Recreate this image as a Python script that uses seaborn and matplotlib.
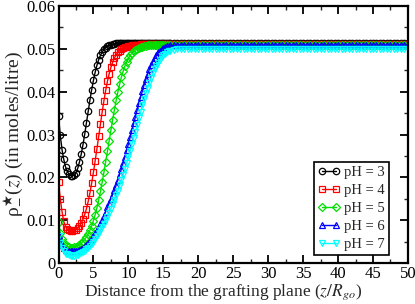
import numpy as np
import pandas as pd
import matplotlib
matplotlib.use("Agg")
import matplotlib.pyplot as plt
import seaborn as sns

# ---------------- data ----------------
z_near = [0, 0.25, 0.5, 0.75, 1, 1.25, 1.5, 1.75, 2, 2.25, 2.5, 2.75, 3, 3.25, 3.5, 3.75,
          4, 4.25, 4.5, 4.75, 5, 5.25, 5.5, 5.75, 6, 6.25, 6.5, 6.75, 7, 7.25, 7.5, 7.75,
          8, 8.25, 8.5, 8.75, 9, 9.25, 9.5, 9.75, 10, 10.25, 10.5, 10.75, 11, 11.25, 11.5, 11.75,
          12, 12.25, 12.5, 12.75, 13, 13.25, 13.5, 13.75, 14, 14.25, 14.5, 14.75, 15, 15.25, 15.5, 15.75,
          16]
z_far = [16.5, 17, 17.5, 18, 18.5, 19, 19.5, 20, 20.5, 21, 21.5, 22, 22.5, 23, 23.5, 24, 24.5, 25,
         25.5, 26, 26.5, 27, 27.5, 28, 28.5, 29, 29.5, 30, 30.5, 31, 31.5, 32, 32.5, 33, 33.5, 34,
         34.5, 35, 35.5, 36, 36.5, 37, 37.5, 38, 38.5, 39, 39.5, 40, 40.5, 41, 41.5, 42, 42.5, 43,
         43.5, 44, 44.5, 45, 45.5, 46, 46.5, 47, 47.5, 48, 48.5, 49, 49.5, 50]

ph3_near = [0.0343, 0.0298, 0.0265, 0.0242, 0.0225, 0.0214, 0.0207, 0.0204, 0.0203, 0.0205, 0.0211,
            0.0221, 0.0236, 0.0254, 0.0276, 0.0301, 0.0328, 0.0355, 0.0381, 0.0405, 0.0427, 0.0446,
            0.0462, 0.0475, 0.0485, 0.0493, 0.0499, 0.0503, 0.0506, 0.0508, 0.0510, 0.0511, 0.0512,
            0.0513, 0.0513, 0.0513, 0.0513, 0.0513, 0.0513, 0.0513, 0.0513, 0.0513, 0.0513, 0.0513,
            0.0513, 0.0513, 0.0513, 0.0513, 0.0513, 0.0513, 0.0513, 0.0513, 0.0513, 0.0513, 0.0513,
            0.0513, 0.0513, 0.0513, 0.0513, 0.0513, 0.0513, 0.0513, 0.0513, 0.0513, 0.0513]
ph4_near = [0.0190, 0.0150, 0.0120, 0.0097, 0.0085, 0.0079, 0.0076, 0.0075, 0.0075, 0.0076, 0.0078,
            0.0081, 0.0086, 0.0093, 0.0102, 0.0113, 0.0127, 0.0144, 0.0164, 0.0187, 0.0212, 0.0239,
            0.0267, 0.0296, 0.0325, 0.0353, 0.0379, 0.0403, 0.0424, 0.0442, 0.0457, 0.0469, 0.0479,
            0.0486, 0.0492, 0.0496, 0.0499, 0.0502, 0.0504, 0.0505, 0.0506, 0.0507, 0.0508, 0.0509,
            0.0509, 0.0510, 0.0510, 0.0511, 0.0511, 0.0511, 0.0511, 0.0511, 0.0511, 0.0511, 0.0511,
            0.0511, 0.0511, 0.0511, 0.0511, 0.0511, 0.0511, 0.0511, 0.0511, 0.0511, 0.0511]
ph5_near = [0.0095, 0.0070, 0.0055, 0.0046, 0.0041, 0.0039, 0.0037, 0.0036, 0.0036, 0.0037, 0.0038,
            0.0040, 0.0042, 0.0046, 0.0050, 0.0055, 0.0061, 0.0068, 0.0077, 0.0087, 0.0099, 0.0113,
            0.0129, 0.0147, 0.0167, 0.0189, 0.0212, 0.0236, 0.0261, 0.0286, 0.0311, 0.0335, 0.0358,
            0.0380, 0.0400, 0.0418, 0.0434, 0.0448, 0.0460, 0.0470, 0.0478, 0.0485, 0.0490, 0.0494,
            0.0498, 0.0500, 0.0502, 0.0504, 0.0505, 0.0506, 0.0507, 0.0508, 0.0508, 0.0509, 0.0509,
            0.0510, 0.0510, 0.0510, 0.0510, 0.0510, 0.0510, 0.0510, 0.0510, 0.0510, 0.0510]
ph6_near = [0.0065, 0.0051, 0.0042, 0.0035, 0.0031, 0.0029, 0.0028, 0.0027, 0.0027, 0.0027, 0.0028,
            0.0029, 0.0031, 0.0033, 0.0036, 0.0039, 0.0043, 0.0047, 0.0052, 0.0057, 0.0063, 0.0069,
            0.0076, 0.0084, 0.0092, 0.0101, 0.0110, 0.0120, 0.0130, 0.0140, 0.0150, 0.0160, 0.0170,
            0.0182, 0.0194, 0.0207, 0.0220, 0.0234, 0.0248, 0.0263, 0.0278, 0.0294, 0.0310, 0.0326,
            0.0342, 0.0358, 0.0373, 0.0388, 0.0402, 0.0416, 0.0429, 0.0441, 0.0452, 0.0462, 0.0471,
            0.0479, 0.0486, 0.0492, 0.0496, 0.0500, 0.0503, 0.0505, 0.0506, 0.0507, 0.0508]
ph7_near = [0.0062, 0.0046, 0.0035, 0.0027, 0.0022, 0.0020, 0.0018, 0.0017, 0.0017, 0.0017, 0.0018,
            0.0019, 0.0021, 0.0023, 0.0026, 0.0029, 0.0032, 0.0036, 0.0040, 0.0045, 0.0050, 0.0056,
            0.0062, 0.0069, 0.0076, 0.0084, 0.0092, 0.0100, 0.0108, 0.0117, 0.0127, 0.0137, 0.0147,
            0.0158, 0.0169, 0.0181, 0.0193, 0.0206, 0.0219, 0.0233, 0.0247, 0.0262, 0.0277, 0.0292,
            0.0307, 0.0323, 0.0338, 0.0353, 0.0368, 0.0382, 0.0396, 0.0409, 0.0421, 0.0432, 0.0443,
            0.0452, 0.0461, 0.0468, 0.0475, 0.0480, 0.0485, 0.0489, 0.0492, 0.0494, 0.0496]

# plateau values (z from 16.5 to 50)
ph3_far = [0.0513, 0.0513, 0.0513, 0.0513, 0.0513, 0.0513, 0.0513, 0.0513, 0.0513, 0.0513, 0.0513, 0.0513,
           0.0513, 0.0513, 0.0513, 0.0513, 0.0513, 0.0513, 0.0513, 0.0513, 0.0513, 0.0513, 0.0513, 0.0513,
           0.0513, 0.0513, 0.0513, 0.0513, 0.0513, 0.0513, 0.0513, 0.0513, 0.0513, 0.0513, 0.0513, 0.0513,
           0.0513, 0.0513, 0.0513, 0.0513, 0.0513, 0.0513, 0.0513, 0.0513, 0.0513, 0.0513, 0.0513, 0.0513,
           0.0513, 0.0513, 0.0513, 0.0513, 0.0513, 0.0513, 0.0513, 0.0513, 0.0513, 0.0513, 0.0513, 0.0513,
           0.0513, 0.0513, 0.0513, 0.0513, 0.0513, 0.0513, 0.0513, 0.0513]
ph4_far = [0.0511, 0.0511, 0.0511, 0.0511, 0.0511, 0.0511, 0.0511, 0.0511, 0.0511, 0.0511, 0.0511, 0.0511,
           0.0511, 0.0511, 0.0511, 0.0511, 0.0511, 0.0511, 0.0511, 0.0511, 0.0511, 0.0511, 0.0511, 0.0511,
           0.0511, 0.0511, 0.0511, 0.0511, 0.0511, 0.0511, 0.0511, 0.0511, 0.0511, 0.0511, 0.0511, 0.0511,
           0.0511, 0.0511, 0.0511, 0.0511, 0.0511, 0.0511, 0.0511, 0.0511, 0.0511, 0.0511, 0.0511, 0.0511,
           0.0511, 0.0511, 0.0511, 0.0511, 0.0511, 0.0511, 0.0511, 0.0511, 0.0511, 0.0511, 0.0511, 0.0511,
           0.0511, 0.0511, 0.0511, 0.0511, 0.0511, 0.0511, 0.0511, 0.0511]
ph5_far = [0.0510, 0.0510, 0.0510, 0.0510, 0.0510, 0.0510, 0.0510, 0.0510, 0.0510, 0.0510, 0.0510, 0.0510,
           0.0510, 0.0510, 0.0510, 0.0510, 0.0510, 0.0510, 0.0510, 0.0510, 0.0510, 0.0510, 0.0510, 0.0510,
           0.0510, 0.0510, 0.0510, 0.0510, 0.0510, 0.0510, 0.0510, 0.0510, 0.0510, 0.0510, 0.0510, 0.0510,
           0.0510, 0.0510, 0.0510, 0.0510, 0.0510, 0.0510, 0.0510, 0.0510, 0.0510, 0.0510, 0.0510, 0.0510,
           0.0510, 0.0510, 0.0510, 0.0510, 0.0510, 0.0510, 0.0510, 0.0510, 0.0510, 0.0510, 0.0510, 0.0510,
           0.0510, 0.0510, 0.0510, 0.0510, 0.0510, 0.0510, 0.0510, 0.0510]
ph6_far = [0.0508, 0.0509, 0.0509, 0.0509, 0.0509, 0.0509, 0.0509, 0.0509, 0.0509, 0.0509, 0.0509, 0.0509,
           0.0509, 0.0509, 0.0509, 0.0509, 0.0509, 0.0509, 0.0509, 0.0509, 0.0509, 0.0509, 0.0509, 0.0509,
           0.0509, 0.0509, 0.0509, 0.0509, 0.0509, 0.0509, 0.0509, 0.0509, 0.0509, 0.0509, 0.0509, 0.0509,
           0.0509, 0.0509, 0.0509, 0.0509, 0.0509, 0.0509, 0.0509, 0.0509, 0.0509, 0.0509, 0.0509, 0.0509,
           0.0509, 0.0509, 0.0509, 0.0509, 0.0509, 0.0509, 0.0509, 0.0509, 0.0509, 0.0509, 0.0509, 0.0509,
           0.0509, 0.0509, 0.0509, 0.0509, 0.0509, 0.0509, 0.0509, 0.0509]
ph7_far = [0.0498, 0.0499, 0.0500, 0.0500, 0.0500, 0.0500, 0.0500, 0.0500, 0.0500, 0.0500, 0.0500, 0.0500,
           0.0500, 0.0500, 0.0500, 0.0500, 0.0500, 0.0500, 0.0500, 0.0500, 0.0500, 0.0500, 0.0500, 0.0500,
           0.0500, 0.0500, 0.0500, 0.0500, 0.0500, 0.0500, 0.0500, 0.0500, 0.0500, 0.0500, 0.0500, 0.0500,
           0.0500, 0.0500, 0.0500, 0.0500, 0.0500, 0.0500, 0.0500, 0.0500, 0.0500, 0.0500, 0.0500, 0.0500,
           0.0500, 0.0500, 0.0500, 0.0500, 0.0500, 0.0500, 0.0500, 0.0500, 0.0500, 0.0500, 0.0500, 0.0500,
           0.0500, 0.0500, 0.0500, 0.0500, 0.0500, 0.0500, 0.0500, 0.0500]

labels = ["pH = 3", "pH = 4", "pH = 5", "pH = 6", "pH = 7"]
x_ticks = [0, 5, 10, 15, 20, 25, 30, 35, 40, 45, 50]
y_ticks = [0, 0.01, 0.02, 0.03, 0.04, 0.05, 0.06]
y_tick_labels = ["0", "0.01", "0.02", "0.03", "0.04", "0.05", "0.06"]

# ---------------- build table ----------------
near = [ph3_near, ph4_near, ph5_near, ph6_near, ph7_near]
far = [ph3_far, ph4_far, ph5_far, ph6_far, ph7_far]
frames = []
for lab, n, f in zip(labels, near, far):
    frames.append(pd.DataFrame({"z": z_near + z_far, "rho": n + f, "pH": lab}))
df = pd.concat(frames, ignore_index=True)

# ---------------- style ----------------
sns.set_style("ticks")
plt.rcParams["font.family"] = ["Liberation Serif", "DejaVu Serif"]
plt.rcParams["mathtext.fontset"] = "stix"

colors = ["#000000", "#ff0000", "#00e000", "#0000ff", "#00ffff"]
markers = ["o", "s", "D", "^", "v"]
msizes = [4.6, 4.2, 3.6, 4.4, 4.4]

fig = plt.figure(figsize=(4.15, 3.04), dpi=100)
ax = fig.add_axes([0.141, 0.135, 0.842, 0.845])

for lab, c, m, ms in zip(labels, colors, markers, msizes):
    sub = df[df["pH"] == lab]
    sns.lineplot(data=sub, x="z", y="rho", ax=ax, color=c, linewidth=1.0,
                 marker=m, markersize=ms, markerfacecolor="none",
                 markeredgecolor=c, markeredgewidth=0.9, label=lab,
                 estimator=None, sort=False)

ax.set_xlim(0, 50)
ax.set_ylim(0, 0.06)
ax.set_xticks(x_ticks)
ax.set_xticklabels([str(t) for t in x_ticks])
ax.set_yticks(y_ticks)
ax.set_yticklabels(y_tick_labels)
ax.set_xticks(np.arange(0, 50.01, 2.5), minor=True)
ax.set_yticks(np.arange(0, 0.0601, 0.005), minor=True)
ax.tick_params(which="major", direction="in", top=True, right=True, length=6,
               width=1.3, labelsize=12, pad=2, colors="black")
ax.tick_params(which="minor", direction="in", top=True, right=True, length=3,
               width=1.0)
for sp in ax.spines.values():
    sp.set_linewidth(1.6)
    sp.set_color("black")

ax.set_xlabel(r"Distance from the grafting plane ($z/R_{go}$)", fontsize=12.5, labelpad=0)
ax.xaxis.set_label_coords(0.47, -0.075)
ax.set_ylabel("\u03c1" + r"$_{-}^{\bigstar}$(" + r"$z$" + ") (in moles/litre)", fontsize=14, labelpad=1)

leg = ax.legend(loc="lower right", bbox_to_anchor=(0.947, 0.03), frameon=True,
                fancybox=False, edgecolor="black", framealpha=1, fontsize=10.5,
                handlelength=1.5, numpoints=2, borderpad=0.3, labelspacing=0.32,
                handletextpad=0.3, borderaxespad=0)
leg.get_frame().set_linewidth(1.2)

fig.savefig("out.png", dpi=100)
